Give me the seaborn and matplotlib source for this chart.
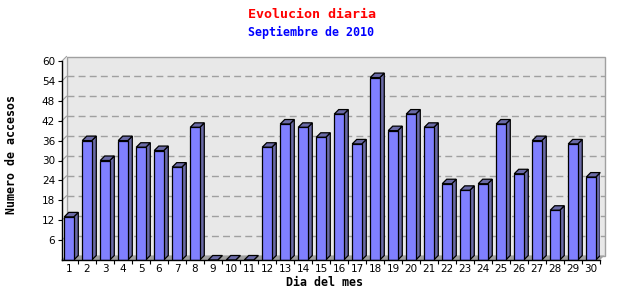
import matplotlib
matplotlib.use("Agg")
import matplotlib.pyplot as plt
from matplotlib.patches import Polygon
import seaborn as sns
import pandas as pd

# ---- data ----
dias = [str(d) for d in range(1, 31)]
accesos = [13, 36, 30, 36, 34, 33, 28, 40, 0, 0, 0, 34, 41, 40, 37,
           44, 35, 55, 39, 44, 40, 23, 21, 23, 41, 26, 36, 15, 35, 25]
y_ticks = [6, 12, 18, 24, 30, 36, 42, 48, 54, 60]
titulo = "Evolucion diaria"
subtitulo = "Septiembre de 2010"
etiqueta_x = "Dia del mes"
etiqueta_y = "Numero de accesos"

df = pd.DataFrame({"dia": dias, "accesos": accesos})

W, H = 640, 300
fig = plt.figure(figsize=(6.4, 3.0), dpi=100)
ax_l, ax_b, ax_w, ax_h = 62, 40, 538, 199
ax = fig.add_axes([ax_l / W, ax_b / H, ax_w / W, ax_h / H])
ax.set_facecolor("none")

front = "#8080ff"
dark = "#6a6aa6"
sns.barplot(data=df, x="dia", y="accesos", order=dias, color=front,
            saturation=1, edgecolor="black", linewidth=0.9, width=0.53,
            ax=ax, zorder=3)
bars = list(ax.patches)

x0, x1 = -0.39, 29.5
ymax = 60
ax.set_xlim(x0, x1)
ax.set_ylim(0, ymax)

px_x = ax_w / (x1 - x0)
px_y = ax_h / ymax
dx = 4.5 / px_x
dy = 4.5 / px_y

# back wall
wall = Polygon([(x0 + dx, dy), (x1 + dx, dy), (x1 + dx, ymax + dy), (x0 + dx, ymax + dy)],
               closed=True, facecolor="#e8e8e8", edgecolor="#a0a0a0", linewidth=1.0,
               zorder=0.5, clip_on=False)
ax.add_patch(wall)
# left wall fill
lwall = Polygon([(x0, 0), (x0 + dx, dy), (x0 + dx, ymax + dy), (x0, ymax)],
                closed=True, facecolor="#f0f0f0", edgecolor="none", zorder=0.4, clip_on=False)
ax.add_patch(lwall)
# grid lines on back wall
for v in y_ticks[:-1]:
    ax.plot([x0 + dx, x1 + dx], [v + dy, v + dy], color="#a0a0a0", linestyle=(0, (5, 3)),
            linewidth=1.0, zorder=0.6, clip_on=False)
for v in [0] + y_ticks:
    ax.plot([x0, x0 + dx], [v, v + dy], color="#a0a0a0", linewidth=0.8, zorder=0.6, clip_on=False)
# floor
floor = Polygon([(x0, 0), (x1, 0), (x1 + dx, dy), (x0 + dx, dy)], closed=True,
                facecolor="#a0a0a0", edgecolor="none", zorder=0.7, clip_on=False)
ax.add_patch(floor)

# 3D faces of bars
for b in bars:
    bx0 = b.get_x()
    bw = b.get_width()
    h = b.get_height()
    bx1 = bx0 + bw
    side = Polygon([(bx1, 0), (bx1 + dx, dy), (bx1 + dx, h + dy), (bx1, h)], closed=True,
                   facecolor=dark, edgecolor="black", linewidth=0.9, zorder=2.9)
    top = Polygon([(bx0, h), (bx1, h), (bx1 + dx, h + dy), (bx0 + dx, h + dy)], closed=True,
                  facecolor=dark, edgecolor="black", linewidth=0.9, zorder=2.9, clip_on=False)
    ax.add_patch(side)
    ax.add_patch(top)

# spines
for s in ["top", "right"]:
    ax.spines[s].set_visible(False)
ax.spines["left"].set_color("black")
ax.spines["bottom"].set_color("black")
ax.spines["left"].set_linewidth(1.0)
ax.spines["bottom"].set_linewidth(1.0)
ax.spines["left"].set_zorder(4)
ax.spines["bottom"].set_zorder(4)

ax.set_yticks(y_ticks)
ax.set_yticklabels([str(v) for v in y_ticks])
ax.tick_params(axis="y", direction="out", length=3, width=0.8, pad=2, labelsize=7.5,
               colors="black")
ax.set_xticks(range(len(dias)))
ax.set_xticklabels(dias)
ax.tick_params(axis="x", which="major", length=0, pad=3, labelsize=7.5)
ax.set_xticks([i + 0.5 for i in range(len(dias))], minor=True)
ax.tick_params(axis="x", which="minor", direction="out", length=3, width=0.8)
ax.set_xlabel("")
ax.set_ylabel("")

mono = ["DejaVu Sans Mono"]
fig.text(312 / W, 1 - 14 / H, titulo, color="#ff0000", family=mono, fontweight="bold",
         fontsize=9.6, ha="center", va="center")
fig.text(311 / W, 1 - 32 / H, subtitulo, color="#0000ff", family=mono, fontweight="bold",
         fontsize=8.4, ha="center", va="center")
fig.text(324 / W, 1 - 282 / H, etiqueta_x, color="black", family=mono, fontweight="bold",
         fontsize=8.4, ha="center", va="center")
fig.text(12 / W, 1 - 154 / H, etiqueta_y, color="black", family=mono, fontweight="bold",
         fontsize=8.4, ha="center", va="center", rotation=90)

fig.savefig("out.png", dpi=100, facecolor="white")
